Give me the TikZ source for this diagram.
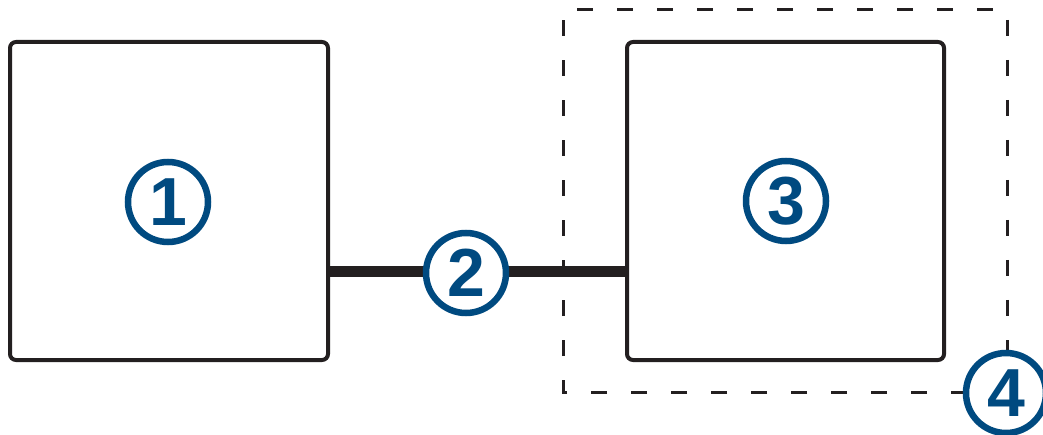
\documentclass[tikz,border=0pt]{standalone}
\usepackage{fontspec}
\setmainfont{Liberation Sans}
\definecolor{gblue}{HTML}{004A80}
\definecolor{gblack}{HTML}{231F20}
\begin{document}
\begin{tikzpicture}[x=1pt,y=-1pt,
  box/.style={draw=gblack,line width=4pt,rounded corners=6pt,fill=white},
  num/.style={circle,draw=gblue,line width=6.5pt,fill=white,minimum size=80pt,inner sep=0pt,
    text=gblue,font=\fontsize{68}{68}\selectfont\bfseries},
  link/.style={draw=gblack,line width=11pt},
  zone/.style={draw=gblack,line width=3pt,dash pattern=on 16pt off 24pt}]
\useasboundingbox (0,0) rectangle (1043,435);
\draw[zone] (1007,392) -- (563,392) -- (563,10) -- (1007,10) -- cycle;
\node[box,minimum width=318pt,minimum height=318pt,inner sep=0pt] (b1) at (169,201) {};
\node[box,minimum width=317pt,minimum height=318pt,inner sep=0pt] (b3) at (785.5,201) {};
\draw[link] (b1.east |- 0,272) -- (b3.west |- 0,272);
\node[num] (n1) at (168,202) {1};
\node[num] (n2) at (466,273) {2};
\node[num] (n3) at (786,201) {3};
\node[num] (n4) at (1006,393) {4};
\end{tikzpicture}
\end{document}
